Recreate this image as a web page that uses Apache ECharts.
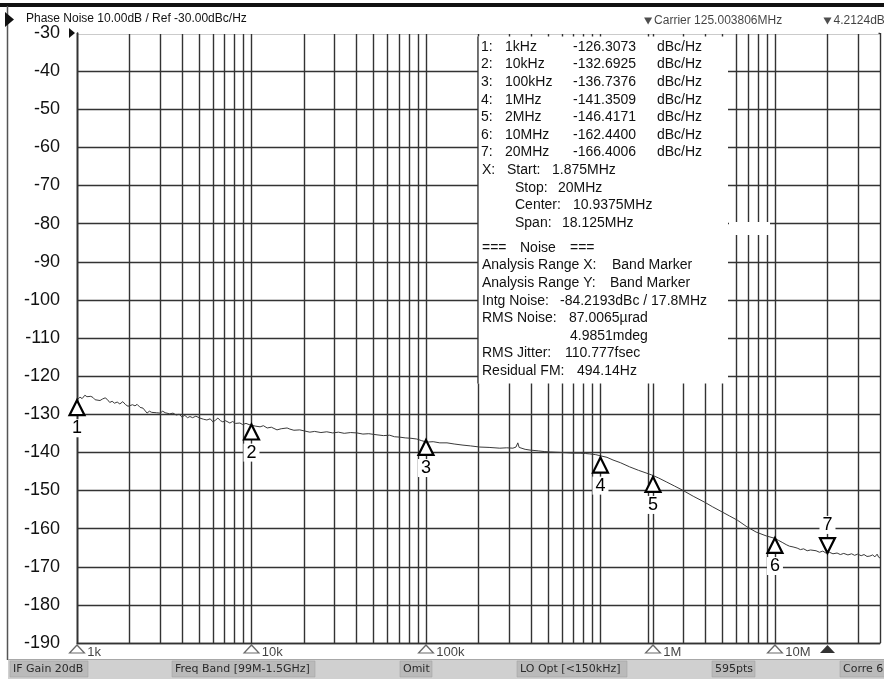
<!DOCTYPE html>
<html><head><meta charset="utf-8">
<script src="https://cdn.jsdelivr.net/npm/echarts@6/dist/echarts.min.js"></script>
<style>html,body{margin:0;padding:0;background:#fff}#c{width:884px;height:681px}</style>
</head><body><div id="c"></div>
<script>
// ---------------- data ----------------
const traceFreqs = [
 1000,1040,1070,1110,1140,1160,1200,1235,1270,1300,1355,1400,1450,1490,1540,1590,1640,1700,1760,1830,1900,1960,
 2010,2080,2150,2210,2300,2390,2450,2520,2600,2680,2750,2850,2990,3100,3200,3280,3400,3550,3700,3850,3990,4150,
 4300,4440,4600,4800,5060,5300,5550,5800,6010,6200,6420,6650,6850,7100,7520,7800,8100,8580,8900,9300,9800,10000,
 10500,11200,11700,12300,13000,14000,14800,16000,16600,17500,18900,20200,21600,23000,25000,27000,29200,31500,34000,
 37000,40200,43500,47000,52400,57000,62000,66000,70700,76000,82000,88600,94000,101000,110000,120000,132000,145000,
 163000,180000,203000,230000,265000,290000,315000,328000,336000,342000,347000,370000,395000,440000,480000,515000,
 580000,640000,696000,764000,820000,869000,940000,1000000,1090000,1180000,1300000,1470000,1650000,1800000,1960000,
 2150000,2400000,2650000,2950000,3400000,3930000,4400000,4970000,5500000,6100000,6900000,7800000,8900000,9900000,
 10500000,11000000,11600000,12100000,12700000,13400000,14000000,14600000,15300000,16000000,16400000,17200000,
 18000000,18800000,19600000,20500000,21500000,22700000,23700000,24800000,26200000,27500000,28600000,29800000,
 31200000,32400000,33700000,35000000,36300000,37400000,38500000,39300000,40000000
];
const traceValues = [
 -126.3,-125.5,-125.9,-125.0,-125.4,-125.8,-125.3,-125.6,-126.2,-125.8,-126.4,-126.0,-125.7,-126.1,-126.9,-126.6,-127.1,-126.8,-127.3,-126.7,-127.5,-127.9,
 -128.1,-127.5,-127.8,-127.4,-128.2,-128.4,-128.9,-129.7,-129.2,-129.5,-129.0,-129.6,-129.7,-129.2,-129.6,-129.3,-129.9,-129.7,-130.2,-130.0,-130.7,-130.3,
 -130.9,-130.6,-130.9,-130.5,-131.0,-131.3,-131.5,-131.2,-132.0,-131.6,-131.0,-131.7,-132.0,-131.7,-132.3,-131.9,-132.4,-132.3,-132.7,-132.4,-132.8,-132.7,
 -133.1,-133.3,-133.0,-133.6,-133.4,-134.1,-133.8,-133.6,-133.9,-134.2,-134.1,-134.4,-134.7,-134.5,-134.8,-134.6,-134.9,-134.7,-135.0,
 -134.8,-134.9,-135.2,-135.1,-135.4,-135.6,-135.5,-135.9,-136.0,-136.2,-136.3,-136.5,-136.9,-137.3,-137.2,-137.5,-137.5,-137.8,
 -138.1,-138.3,-138.6,-138.7,-138.9,-138.8,-138.9,-138.6,-137.5,-138.7,-139.1,-139.2,-139.4,-139.6,-139.8,-139.9,
 -140.0,-140.1,-140.2,-140.2,-140.3,-140.4,-140.6,-140.9,-141.3,-142.0,-142.7,-143.8,-144.7,-145.3,-145.9,
 -146.7,-147.8,-148.8,-149.9,-151.5,-153.0,-154.3,-155.6,-156.7,-157.8,-159.5,-160.9,-161.9,-162.5,
 -163.1,-163.6,-164.2,-164.6,-164.8,-165.1,-165.5,-165.3,-165.8,-165.6,-166.1,-165.8,
 -166.2,-165.9,-166.4,-166.2,-166.6,-166.4,-166.8,-166.5,-166.9,-166.6,-167.0,-166.7,
 -167.1,-166.8,-167.3,-167.2,-166.9,-167.4,-166.7,-167.5,-167.7
];
const markerIds = ['1','2','3','4','5','6','7'];
const markerFreqs = [1e3, 1e4, 1e5, 1e6, 2e6, 1e7, 2e7];
const markerFreqText = ['1kHz','10kHz','100kHz','1MHz','2MHz','10MHz','20MHz'];
const markerReadouts = [-126.3073, -132.6925, -136.7376, -141.3509, -146.4171, -162.4400, -166.4006];
const activeMarker = '7';
const axisMarkFreqs = [1e3, 1e4, 1e5, 2e6, 1e7];
const axisMarkLabels = ['1k', '10k', '100k', '1M', '10M'];
const bandStart = 1.875e6;
const bandStop = 2e7;
const xMin = 1e3, xMax = 4e7;
const yMin = -190, yMax = -30, yStep = 10;
const headerText = 'Phase Noise 10.00dB / Ref -30.00dBc/Hz';
const carrierText = 'Carrier 125.003806MHz';
const carrierLevelText = '4.2124dBm';
const bandText = [['Start:', '1.875MHz'], ['Stop:', '20MHz'], ['Center:', '10.9375MHz'], ['Span:', '18.125MHz']];
const noiseText = [
  ['Analysis Range X:', 'Band Marker'],
  ['Analysis Range Y:', 'Band Marker'],
  ['Intg Noise:', '-84.2193dBc / 17.8MHz'],
  ['RMS Noise:', '87.0065µrad'],
  ['', '4.9851mdeg'],
  ['RMS Jitter:', '110.777fsec'],
  ['Residual FM:', '494.14Hz']
];
const statusItems = ['IF Gain 20dB', 'Freq Band [99M-1.5GHz]', 'Omit', 'LO Opt [<150kHz]', '595pts', 'Corre 6'];

// ---------------- chart ----------------
const FONT = 'Liberation Sans, Arial, sans-serif';
const GRID = '#333';
const GW = 1.4;
const chart = echarts.init(document.getElementById('c'), null, {renderer: 'canvas'});

const minorGrid = [];
[1e3, 1e4, 1e5, 1e6, 1e7].forEach(d => { for (let k = 2; k <= 9; k++) { if (d * k < xMax) minorGrid.push(d * k); } });
minorGrid.push(bandStart);

const graphics = [];
const Z = 50;
function txt(x, y, t, size, family, fill) {
  graphics.push({type: 'text', x: x, y: y, z: Z + 2, silent: true,
    style: {text: t, fontSize: size, fontFamily: family || FONT, fill: fill || '#111', verticalAlign: 'middle', align: 'left'}});
}
// frame
graphics.push({type: 'rect', z: Z, silent: true, shape: {x: 0, y: 3, width: 884, height: 4}, style: {fill: '#111'}});
graphics.push({type: 'line', z: Z, silent: true, shape: {x1: 7.5, y1: 6, x2: 7.5, y2: 660}, style: {stroke: '#555', lineWidth: 1.5}});
// hide top grid line (reference has no horizontal line at the top)
graphics.push({type: 'rect', z: Z, silent: true, shape: {x: 78.5, y: 31, width: 800, height: 3}, style: {fill: '#fff'}});
// header
graphics.push({type: 'polygon', z: Z, silent: true, shape: {points: [[5, 12], [14, 19.5], [5, 27]]}, style: {fill: '#111'}});
txt(26, 19, headerText, 12);
graphics.push({type: 'polygon', z: Z, silent: true, shape: {points: [[69, 28], [75, 33], [69, 38]]}, style: {fill: '#111'}});
// marker table box
graphics.push({type: 'rect', z: Z, silent: true, shape: {x: 478, y: 36.5, width: 250, height: 347}, style: {fill: '#fff'}});
graphics.push({type: 'line', z: Z + 1, silent: true, shape: {x1: 478, y1: 36.5, x2: 478, y2: 383.5}, style: {stroke: '#333', lineWidth: 1.3}});
graphics.push({type: 'rect', z: Z, silent: true, shape: {x: 729, y: 222, width: 41, height: 13}, style: {fill: '#fff'}});
const rowH = 17.6;
markerIds.forEach((id, i) => {
  const y = 47 + rowH * i;
  txt(481, y, id + ':', 14);
  txt(505, y, markerFreqText[i], 14);
  txt(573, y, markerReadouts[i].toFixed(4), 14);
  txt(657, y, 'dBc/Hz', 14);
});
const bandX = [[507, 552], [515, 558], [515, 573], [515, 562]];
bandText.forEach((r, j) => {
  const y = 47 + rowH * (7 + j);
  if (j === 0) txt(482, y, 'X:', 14);
  txt(bandX[j][0], y, r[0], 14);
  txt(bandX[j][1], y, r[1], 14);
});
txt(482, 248, '===', 14); txt(520, 248, 'Noise', 14); txt(570, 248, '===', 14);
const noiseX = [612, 610, 560, 569, 570, 565, 577];
noiseText.forEach((r, j) => {
  const y = 248 + rowH * (j + 1);
  if (r[0]) txt(482, y, r[0], 14);
  txt(noiseX[j], y, r[1], 14);
});
// status bar
graphics.push({type: 'rect', z: Z, silent: true, shape: {x: 8, y: 659, width: 876, height: 20}, style: {fill: '#d0d0d0'}});
graphics.push({type: 'line', z: Z, silent: true, shape: {x1: 8, y1: 659.5, x2: 884, y2: 659.5}, style: {stroke: '#a8a8a8', lineWidth: 1}});
const statusBox = [[10, 78], [172, 143], [400, 32], [517, 110], [712, 43], [840, 50]];
statusItems.forEach((s, i) => {
  graphics.push({type: 'rect', z: Z + 1, silent: true, shape: {x: statusBox[i][0], y: 661, width: statusBox[i][1], height: 16},
    style: {fill: '#bababa', stroke: '#a5a5a5', lineWidth: 0.6}});
  txt(statusBox[i][0] + 3, 669.5, s, 11, 'DejaVu Sans, sans-serif', '#2a2a2a');
});

const upTri = 'path://M8,0L16,14L0,14Z';
const downTri = 'path://M0,0L16,0L8,14Z';

const option = {
  animation: false,
  backgroundColor: '#fff',
  grid: {left: 77, right: 4, top: 33, bottom: 38, containLabel: false},
  xAxis: {
    type: 'log', logBase: 10, min: xMin, max: xMax,
    axisLine: {show: true, lineStyle: {color: GRID, width: GW}},
    axisTick: {show: false}, axisLabel: {show: false},
    splitLine: {show: true, lineStyle: {color: GRID, width: GW}}
  },
  yAxis: {
    type: 'value', min: yMin, max: yMax, interval: yStep,
    axisLine: {show: true, lineStyle: {color: GRID, width: GW}},
    axisTick: {show: false},
    axisLabel: {color: '#111', fontSize: 18, fontFamily: FONT, margin: 17},
    splitLine: {show: true, lineStyle: {color: GRID, width: GW}}
  },
  series: [
    {
      name: 'trace', type: 'line', z: 3, silent: true,
      data: traceFreqs.map((f, i) => [f, traceValues[i]]),
      showSymbol: false, symbol: 'none',
      lineStyle: {color: '#3a3a3a', width: 1},
      markLine: {
        silent: true, symbol: ['none', 'none'], label: {show: false}, z: 1,
        lineStyle: {color: GRID, width: GW, type: 'solid'},
        emphasis: {disabled: true},
        data: minorGrid.map(f => ({xAxis: f}))
      }
    },
    {
      name: 'markers', type: 'scatter', z: 5, silent: true, clip: false,
      itemStyle: {color: '#fff', borderColor: '#000', borderWidth: 2.2, opacity: 1},
      data: markerFreqs.map((f, i) => {
        const inv = markerIds[i] === activeMarker;
        return {
          value: [f, markerReadouts[i]],
          symbol: inv ? downTri : upTri,
          symbolSize: [15, 15],
          symbolOffset: [0, inv ? -7.5 : 7.5],
          label: {show: true, formatter: markerIds[i], position: inv ? 'top' : 'bottom', distance: 3,
            fontSize: 18, fontFamily: FONT, color: '#000', textBorderWidth: 0, backgroundColor: '#fff', padding: [0, 3, 0, 3]}
        };
      })
    },
    {
      name: 'axisMarks', type: 'scatter', z: 5, silent: true, clip: false,
      symbol: 'triangle', symbolSize: [15, 8], symbolOffset: [0, 6],
      itemStyle: {color: '#fff', borderColor: '#444', borderWidth: 1.2},
      label: {show: true, position: 'right', distance: 2, offset: [0, 3], fontSize: 13, fontFamily: FONT, color: '#111',
        formatter: p => axisMarkLabels[p.dataIndex]},
      data: axisMarkFreqs.map(f => [f, yMin])
    },
    {
      name: 'bandMarks', type: 'scatter', z: 5, silent: true, clip: false,
      data: [
        {value: [bandStart, yMax], symbol: downTri, symbolSize: [8, 7], symbolOffset: [0, -12],
          itemStyle: {color: '#222'},
          label: {show: true, position: 'right', distance: 2, formatter: carrierText, fontSize: 12, fontFamily: FONT, color: '#111'}},
        {value: [bandStop, yMax], symbol: downTri, symbolSize: [8, 7], symbolOffset: [0, -12],
          itemStyle: {color: '#222'},
          label: {show: true, position: 'right', distance: 2, formatter: carrierLevelText, fontSize: 12, fontFamily: FONT, color: '#111'}},
        {value: [bandStop, yMin], symbol: 'triangle', symbolSize: [15, 8], symbolOffset: [0, 6],
          itemStyle: {color: '#000'}, label: {show: false}}
      ]
    }
  ],
  graphic: {elements: graphics}
};
chart.setOption(option);
</script>
</body></html>
